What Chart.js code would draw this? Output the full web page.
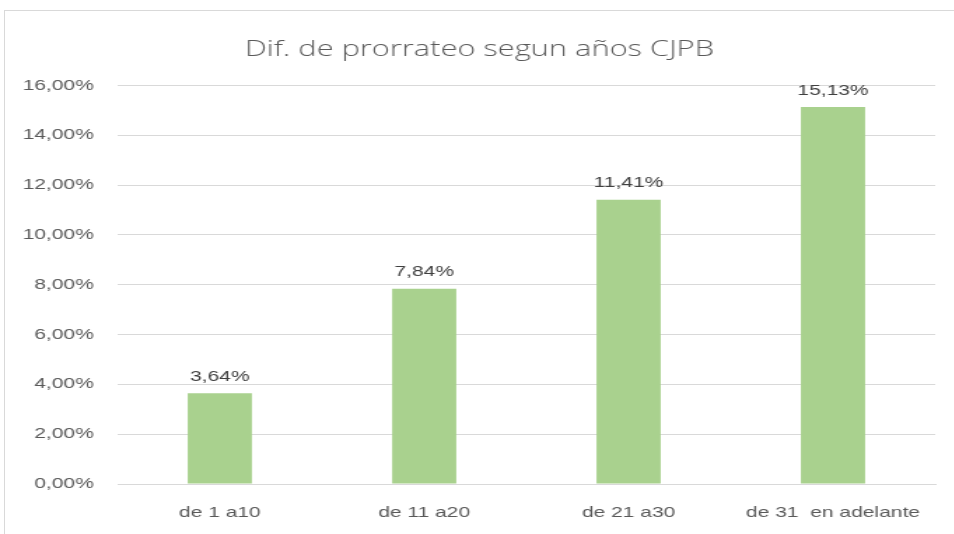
<html><head><meta charset="utf-8">
<script src="https://cdn.jsdelivr.net/npm/chart.js@4.4.0/dist/chart.umd.min.js"></script>
<style>
body{margin:0;background:#fff;overflow:hidden;}
#box{position:absolute;left:4px;top:10px;width:980px;height:560px;border:1px solid #d9d9d9;}
/* the reference picture is stretched sideways, so the chart is drawn narrow and scaled in x */
#wrap{position:absolute;left:0;top:0;width:682px;height:534px;transform:scaleX(1.4);transform-origin:0 0;}
</style>
</head>
<body>
<div id="box"></div>
<div id="wrap"><canvas id="myChart" width="682" height="534"></canvas></div>
<script>
var categories = ['de 1 a10', 'de 11 a20', 'de 21 a30', 'de 31  en adelante'];
var values = [3.64, 7.84, 11.41, 15.13];
var yTicks = [0, 2, 4, 6, 8, 10, 12, 14, 16];

function pct(v) { return v.toFixed(2).replace('.', ',') + '%'; }

var labelPlugin = {
  id: 'barLabels',
  afterDatasetsDraw: function(chart) {
    var ctx = chart.ctx;
    var meta = chart.getDatasetMeta(0);
    ctx.save();
    ctx.fillStyle = '#404040';
    ctx.font = '15px "Liberation Sans", sans-serif';
    ctx.textAlign = 'center';
    ctx.textBaseline = 'bottom';
    meta.data.forEach(function(bar, i) {
      ctx.fillText(pct(values[i]), bar.x, bar.y - 9);
    });
    ctx.restore();
  }
};

var ctx = document.getElementById('myChart');
var myChart = new Chart(ctx, {
  type: 'bar',
  data: {
    labels: categories,
    datasets: [{
      data: values,
      backgroundColor: '#a9d18e',
      categoryPercentage: 1,
      barPercentage: 0.314
    }]
  },
  options: {
    responsive: false,
    animation: false,
    layout: { padding: { left: 17, right: 14, top: 0, bottom: 0 } },
    plugins: {
      legend: { display: false },
      tooltip: { enabled: false },
      title: {
        display: true,
        text: 'Dif. de prorrateo segun años CJPB',
        color: '#595959',
        font: { family: '"Open Sans", sans-serif', size: 22, weight: '300' },
        padding: { top: 37, bottom: 22 }
      }
    },
    scales: {
      x: {
        grid: { display: false },
        border: { color: '#d9d9d9' },
        ticks: { color: '#595959', font: { family: '"Liberation Sans", sans-serif', size: 15 }, padding: 12 }
      },
      y: {
        min: 0, max: 16,
        afterBuildTicks: function(scale) { scale.ticks = yTicks.map(function(v) { return { value: v }; }); },
        afterFit: function(scale) { scale.width = 67; },
        grid: { color: '#d9d9d9', drawTicks: false },
        border: { display: false },
        ticks: {
          color: '#595959', padding: 17,
          font: { family: '"Liberation Sans", sans-serif', size: 15 },
          callback: function(v) { return pct(v); }
        }
      }
    }
  },
  plugins: [labelPlugin]
});
</script>
</body></html>
